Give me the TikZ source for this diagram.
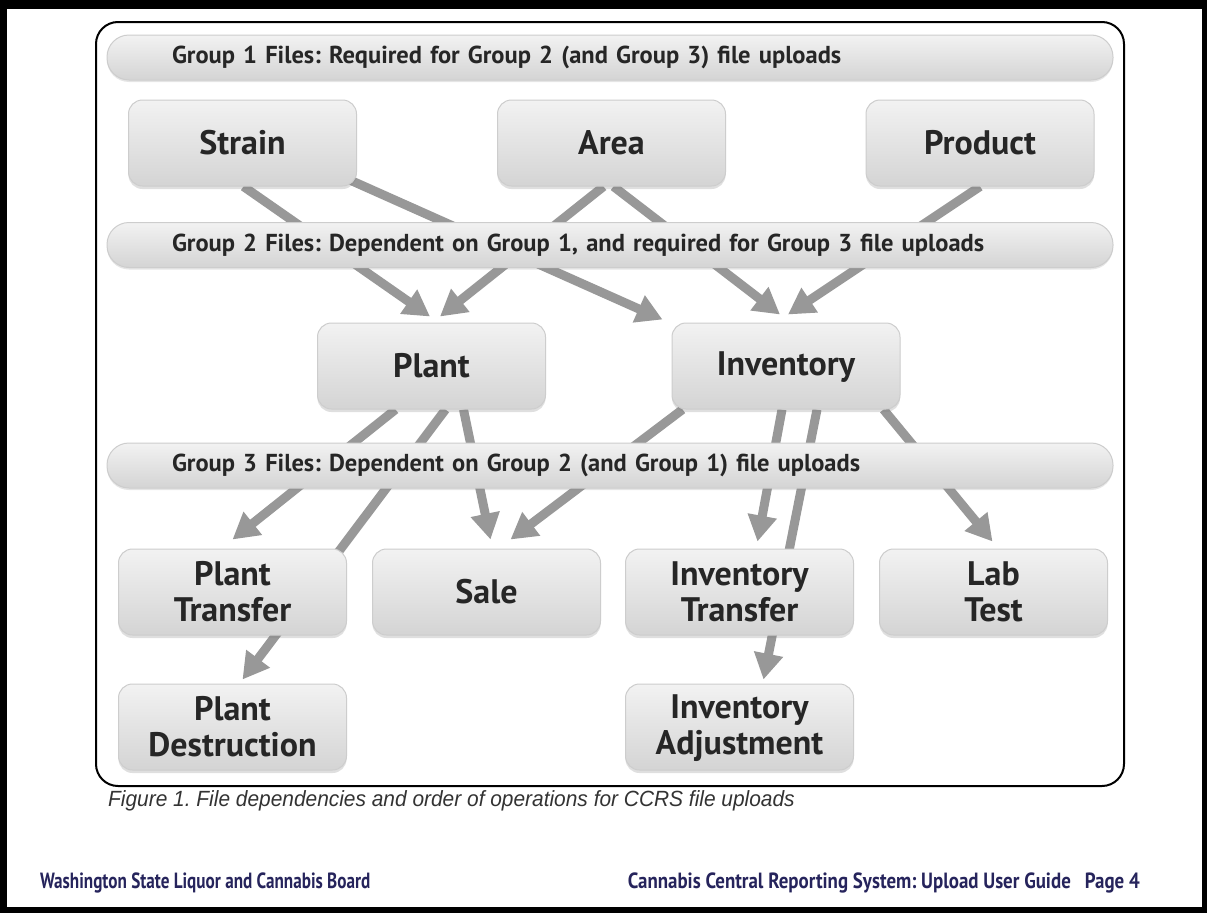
\documentclass[tikz,border=0pt]{standalone}
\usepackage{fontspec}
\newfontfamily\boxfont{PT Sans}[WordSpace=0.8]
\newfontfamily\footfont{PT Sans}[FakeStretch=0.78]
\newfontfamily\footfontr{PT Sans}[FakeStretch=0.86]
\newfontfamily\capfont{Liberation Sans}[FakeStretch=0.95]
\newcommand\bstrut{\rule[-3pt]{0pt}{29pt}}
\newcommand\gstrut{\rule[-5pt]{0pt}{23pt}}
\frenchspacing
\usetikzlibrary{arrows.meta,calc,shadows}
\pgfdeclarelayer{page}
\pgfdeclarelayer{background}
\pgfsetlayers{page,background,main}
\definecolor{arrowgray}{RGB}{152,152,152}
\definecolor{boxline}{RGB}{205,205,205}
\definecolor{boxtop}{RGB}{242,242,242}
\definecolor{boxbot}{RGB}{212,212,212}
\definecolor{footnavy}{RGB}{38,36,92}
\tikzset{
  filebox/.style={rectangle, rounded corners=14pt, draw=boxline, line width=1pt,
    top color=boxtop, bottom color=boxbot, minimum width=228pt, minimum height=86pt,
    align=center, text=black!85, font=\boxfont\bfseries\fontsize{34}{36}\selectfont,
    drop shadow={shadow xshift=0pt, shadow yshift=-3pt, opacity=0.25}},
  groupbar/.style={rectangle, rounded corners=22pt, draw=boxline, line width=1pt,
    top color=boxtop, bottom color=boxbot, minimum height=45pt, text width=876pt,
    inner xsep=65pt, align=left, text=black!85,
    font=\boxfont\bfseries\fontsize{24.5}{26}\selectfont\frenchspacing,
    drop shadow={shadow xshift=0pt, shadow yshift=-2pt, opacity=0.2}},
  dep/.style={draw=arrowgray, line width=9pt, -{Triangle[length=26pt,width=28pt]}},
}
\begin{document}
\begin{tikzpicture}[x=1pt,y=-1pt]
\useasboundingbox (0,0) rectangle (1207,913);
% page edge
\begin{pgfonlayer}{page}
\fill[black] (0,0) rectangle (1207,913);
\fill[white] (7,9) rectangle (1202,907);
\end{pgfonlayer}
\draw[line width=2pt, rounded corners=22pt] (96,22) rectangle (1124,786);

% group bars
\node[groupbar] (g1) at (610,57.5) {\gstrut Group 1 Files: Required for Group 2 (and Group 3) file uploads};
\node[groupbar] (g2) at (610,245) {\gstrut Group 2 Files: Dependent on Group 1, and required for Group 3 file uploads};
\node[groupbar] (g3) at (610,465.5) {\gstrut Group 3 Files: Dependent on Group 2 (and Group 1) file uploads};

% group 1
\node[filebox] (strain) at (242.5,143) {\bstrut Strain};
\node[filebox] (area) at (611.5,143) {\bstrut Area};
\node[filebox] (product) at (980,143) {\bstrut Product};
% group 2
\node[filebox] (plant) at (431.5,366) {\bstrut Plant};
\node[filebox] (inventory) at (786,366) {\bstrut Inventory};
% group 3
\node[filebox] (ptransfer) at (232.5,592) {\bstrut Plant\\Transfer\bstrut};
\node[filebox] (sale) at (486.5,592) {\bstrut Sale};
\node[filebox] (itransfer) at (739.5,592) {\bstrut Inventory\\Transfer\bstrut};
\node[filebox] (labtest) at (993.5,592) {\bstrut Lab\\Test\bstrut};
\node[filebox] (pdestruction) at (232.5,727) {\bstrut Plant\\Destruction\bstrut};
\node[filebox] (iadjust) at (739.5,727) {\bstrut Inventory\\Adjustment\bstrut};

% dependencies, behind the bars and boxes
\begin{pgfonlayer}{background}
\draw[dep] ($(strain.south)+(1,0)$) -- ($(plant.north)+(-1.5,-6)$);
\draw[dep] ($(strain.south east)+(-6,-6)$) -- ($(inventory.north west)+(-9,-3)$);
\draw[dep] ($(area.south)+(-8,0)$) -- ($(plant.north)+(8.5,-6)$);
\draw[dep] ($(area.south)+(2,0)$) -- ($(inventory.north)+(-6,-8)$);
\draw[dep] ($(product.south)+(0,0)$) -- ($(inventory.north)+(2,-8)$);
\draw[dep] ($(plant.south)+(-36,0)$) -- ($(ptransfer.north)+(0,-9)$);
\draw[dep] ($(plant.south)+(14,0)$) -- ($(pdestruction.north)+(10,-4)$);
\draw[dep] ($(plant.south)+(32,0)$) -- ($(sale.north)+(4,-9)$);
\draw[dep] ($(inventory.south west)+(11,0)$) -- ($(sale.north)+(24,-9)$);
\draw[dep] ($(inventory.south)+(-4,0)$) -- ($(itransfer.north)+(18,-7)$);
\draw[dep] ($(inventory.south)+(31,0)$) -- ($(iadjust.north)+(24,-4)$);
\draw[dep] ($(inventory.south east)+(-17,0)$) -- ($(labtest.north)+(-1,-7)$);
\end{pgfonlayer}

% caption and footer
\node[anchor=base west, inner sep=0pt, text=black!80, font=\capfont\itshape\fontsize{22}{26}\selectfont] (caption) at (108,806) {Figure 1. File dependencies and order of operations for CCRS file uploads};
\node[anchor=base west, inner sep=0pt, text=footnavy, font=\footfont\bfseries\fontsize{22}{26}\selectfont] (footleft) at (40,888) {Washington State Liquor and Cannabis Board};
\node[anchor=base east, inner sep=0pt, text=footnavy, font=\footfontr\bfseries\fontsize{22}{26}\selectfont] (footright) at (1140,888) {Cannabis Central Reporting System: Upload User Guide\hspace{14pt}Page 4};
\end{tikzpicture}
\end{document}
